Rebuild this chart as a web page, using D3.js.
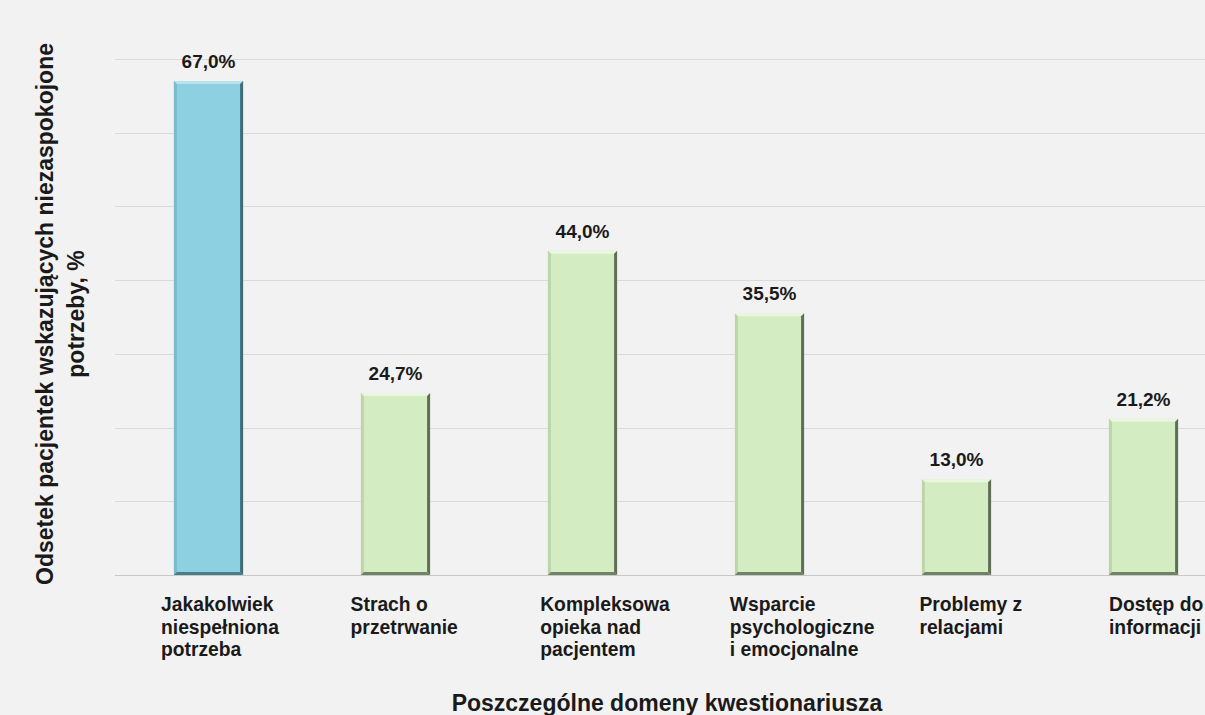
<!DOCTYPE html>
<html>
<head>
<meta charset="utf-8">
<script src="https://cdn.jsdelivr.net/npm/d3@7"></script>
<style>
  html, body { margin: 0; padding: 0; background: #f2f2f2; overflow: hidden; }
  svg { display: block; font-family: "Liberation Sans", Arial, sans-serif; }
</style>
</head>
<body>
<svg id="chart" width="1205" height="715"></svg>
<script>
// Domains of the questionnaire (each label split into lines)
const categories = [
  ["Jakakolwiek", "niespełniona", "potrzeba"],
  ["Strach o", "przetrwanie"],
  ["Kompleksowa", "opieka nad", "pacjentem"],
  ["Wsparcie", "psychologiczne", "i emocjonalne"],
  ["Problemy z", "relacjami"],
  ["Dostęp do", "informacji"]
];
const values = [67.0, 24.7, 44.0, 35.5, 13.0, 21.2];
const yTicks = [0, 10, 20, 30, 40, 50, 60, 70];
const yTitle = ["Odsetek pacjentek wskazujących niezaspokojone", "potrzeby, %"];
const xTitle = "Poszczególne domeny kwestionariusza";

const svg = d3.select("#chart");
const W = 1205, H = 715;
const plot = { left: 115, top: 59, bottom: 575, right: 115 + 187 * categories.length };

const x = d3.scaleBand()
  .domain(d3.range(categories.length))
  .range([plot.left, plot.right])
  .paddingInner(0.63)
  .paddingOuter(0.315);

// Left edges of the wrapped category labels
const xLabel = d3.scalePoint()
  .domain(d3.range(categories.length))
  .range([161, 1109]);

const y = d3.scaleLinear().domain([0, 70]).range([plot.bottom, plot.top]);

// Horizontal gridlines
svg.append("g")
  .selectAll("line")
  .data(yTicks)
  .join("line")
  .attr("x1", plot.left)
  .attr("x2", W)
  .attr("y1", d => Math.round(y(d)) + 0.5)
  .attr("y2", d => Math.round(y(d)) + 0.5)
  .attr("stroke", d => d === 0 ? "#c8c8c8" : "#dadada")
  .attr("stroke-width", 1);

// Bars with a bevelled edge
const palette = i => i === 0
  ? { fill: "#8dd0e1", light: "#b9e4ee", dark: "#3f6e79", side: "#7cbccc" }
  : { fill: "#d3ecc2", light: "#eaf7e0", dark: "#5e6e57", side: "#bcd6aa" };

const bars = svg.append("g").selectAll("g")
  .data(values)
  .join("g");

bars.each(function (v, i) {
  const g = d3.select(this);
  const c = palette(i);
  const x0 = x(i), w = x.bandwidth();
  const y0 = y(v), y1 = y(0);
  const b = 3;
  g.append("rect")
    .attr("x", x0).attr("y", y0)
    .attr("width", w).attr("height", y1 - y0)
    .attr("fill", c.fill);
  // top bevel
  g.append("polygon")
    .attr("points", [[x0, y0], [x0 + w, y0], [x0 + w - b, y0 + b], [x0 + b, y0 + b]].join(" "))
    .attr("fill", c.light);
  // left bevel
  g.append("polygon")
    .attr("points", [[x0, y0], [x0 + b, y0 + b], [x0 + b, y1 - b], [x0, y1]].join(" "))
    .attr("fill", c.side);
  // right bevel
  g.append("polygon")
    .attr("points", [[x0 + w, y0], [x0 + w, y1], [x0 + w - b, y1 - b], [x0 + w - b, y0 + b]].join(" "))
    .attr("fill", c.dark);
  // bottom bevel
  g.append("polygon")
    .attr("points", [[x0, y1], [x0 + w, y1], [x0 + w - b, y1 - b], [x0 + b, y1 - b]].join(" "))
    .attr("fill", c.dark)
    .attr("opacity", 0.85);
});

// Value labels above bars
svg.append("g")
  .selectAll("text")
  .data(values)
  .join("text")
  .attr("x", (d, i) => x(i) + x.bandwidth() / 2)
  .attr("y", d => y(d) - 13)
  .attr("text-anchor", "middle")
  .attr("font-size", 19)
  .attr("font-weight", "bold")
  .attr("fill", "#1a1a1a")
  .text(d => d.toFixed(1).replace(".", ",") + "%");

// Category labels under bars
const catG = svg.append("g");
categories.forEach((lines, i) => {
  const t = catG.append("text")
    .attr("x", xLabel(i))
    .attr("y", 611)
    .attr("font-size", 19.3)
    .attr("font-weight", "bold")
    .attr("fill", "#1a1a1a");
  lines.forEach((ln, k) => {
    t.append("tspan")
      .attr("x", xLabel(i))
      .attr("dy", k === 0 ? 0 : 22.5)
      .text(ln);
  });
});

// Y-axis title
const yt = svg.append("text")
  .attr("transform", "translate(53,314) rotate(-90)")
  .attr("text-anchor", "middle")
  .attr("font-size", 23)
  .attr("font-weight", "bold")
  .attr("fill", "#1a1a1a");
yTitle.forEach((ln, k) => {
  yt.append("tspan").attr("x", 0).attr("dy", k === 0 ? 0 : 31).text(ln);
});

// X-axis title
svg.append("text")
  .attr("x", 667)
  .attr("y", 711)
  .attr("text-anchor", "middle")
  .attr("font-size", 23)
  .attr("font-weight", "bold")
  .attr("fill", "#1a1a1a")
  .text(xTitle);
</script>
</body>
</html>
